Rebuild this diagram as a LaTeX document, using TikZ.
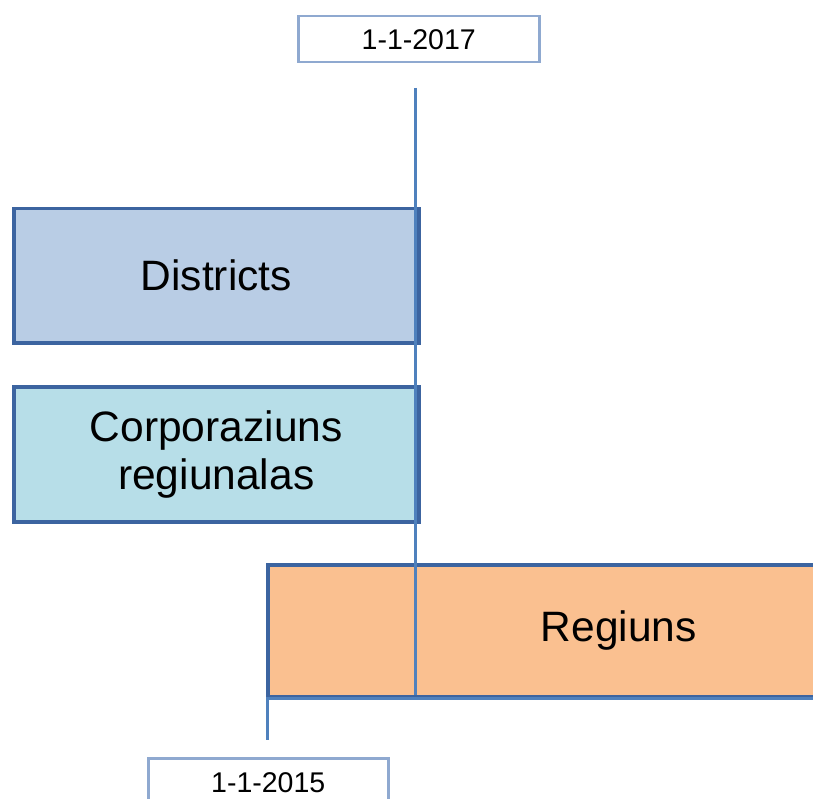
\documentclass[tikz,border=0pt]{standalone}
\usepackage{fontspec}
\setmainfont{Liberation Sans}
\definecolor{edge}{HTML}{3C64A0}
\definecolor{tline}{HTML}{4F81BD}
\definecolor{dateedge}{HTML}{8FA9D0}
\definecolor{distfill}{HTML}{B9CDE5}
\definecolor{corpfill}{HTML}{B7DEE8}
\definecolor{regfill}{HTML}{FAC090}
\tikzset{
  period/.style={draw=edge, line width=3.5pt, anchor=north west, inner sep=0pt,
    font=\fontsize{42.5}{48}\selectfont, align=center},
  datebox/.style={draw=dateedge, line width=2.5pt, fill=white, inner sep=0pt,
    font=\fontsize{28.5}{32}\selectfont},
  timeline/.style={draw=tline, line width=3pt}
}
\begin{document}
\begin{tikzpicture}[x=1pt,y=-1pt]
\useasboundingbox (0,0) rectangle (813,799);
\clip (0,0) rectangle (813,799);
\node[period, fill=distfill, minimum width=405pt, minimum height=134pt] (dist) at (12,207) {Districts};
\node[period, fill=corpfill, minimum width=405pt, minimum height=135pt] (corp) at (12,385) {Corporaziuns\\regiunalas};
\node[period, fill=regfill, minimum width=702pt, minimum height=132pt] (reg) at (266,563) {Regiuns};
\node[datebox, minimum width=241pt, minimum height=46pt, anchor=north west] (d17) at (297,15) {1-1-2017};
\node[datebox, minimum width=240pt, minimum height=48pt, anchor=north west] (d15) at (147,757) {1-1-2015};
\coordinate (t17top) at (415,88);
\coordinate (t17bot) at (415,695);
\coordinate (t15top) at (267,697);
\coordinate (t15bot) at (267,740);
\coordinate (axL) at (266,698);
\coordinate (axR) at (813,698);
\draw[timeline] (t17top) -- (t17bot);
\draw[timeline] (axL) -- (axR);
\draw[timeline] (t15top) -- (t15bot);
\end{tikzpicture}
\end{document}
